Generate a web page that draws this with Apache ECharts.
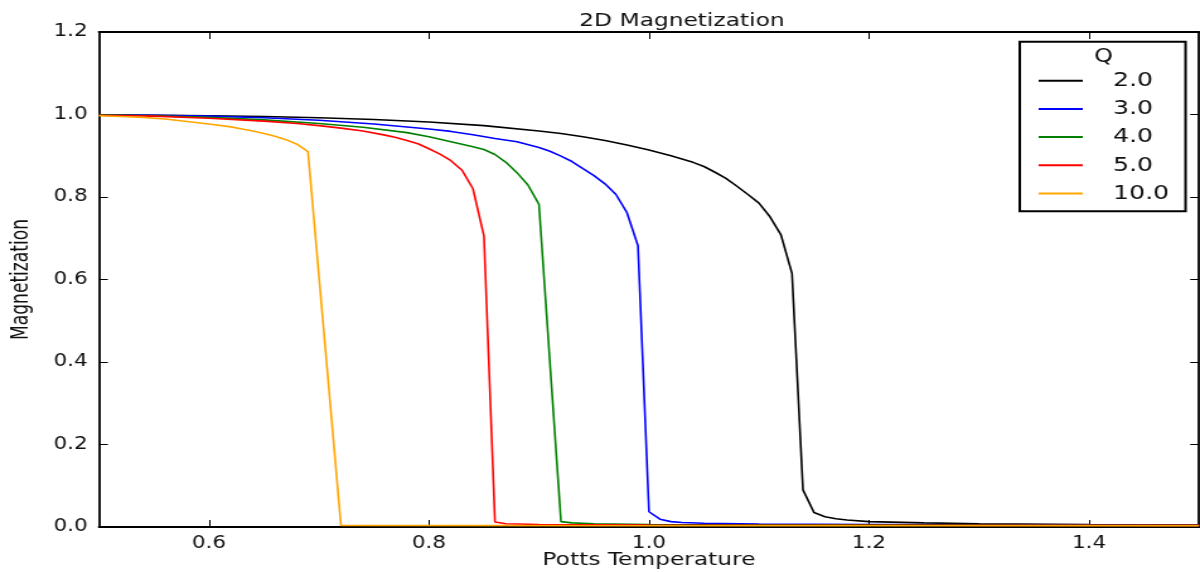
<!DOCTYPE html>
<html>
<head>
<meta charset="utf-8">
<script src="https://cdn.jsdelivr.net/npm/echarts@6/dist/echarts.min.js"></script>
<style>
  html, body { margin: 0; padding: 0; background: #fff; overflow: hidden; }
  /* the figure is laid out narrow and widened to the page width */
  #chart { width: 952px; height: 572px; transform: scaleX(1.2605); transform-origin: 0 0; }
</style>
</head>
<body>
<div id="chart"></div>
<script>
// Potts model magnetization vs temperature, one curve per Q
const qLabels = ['2.0', '3.0', '4.0', '5.0', '10.0'];
const qColors = ['#000000', '#0000ff', '#008000', '#ff0000', '#ffa500'];

const magQ2 = [
  [0.50, 0.999], [0.55, 0.998], [0.60, 0.997], [0.65, 0.995], [0.70, 0.992],
  [0.75, 0.988], [0.80, 0.982], [0.85, 0.973], [0.90, 0.960], [0.92, 0.954],
  [0.94, 0.946], [0.96, 0.937], [0.98, 0.926], [1.00, 0.914], [1.02, 0.900],
  [1.04, 0.884], [1.05, 0.874], [1.06, 0.860], [1.07, 0.845], [1.08, 0.826],
  [1.09, 0.806], [1.10, 0.785], [1.11, 0.752], [1.12, 0.708], [1.13, 0.615],
  [1.14, 0.090], [1.15, 0.035], [1.16, 0.025], [1.17, 0.020], [1.18, 0.017],
  [1.20, 0.013], [1.25, 0.010], [1.30, 0.008], [1.40, 0.006], [1.50, 0.005]
];
const magQ3 = [
  [0.50, 0.999], [0.55, 0.998], [0.60, 0.996], [0.65, 0.992], [0.70, 0.986],
  [0.75, 0.977], [0.80, 0.965], [0.82, 0.959], [0.84, 0.951], [0.86, 0.942],
  [0.88, 0.934], [0.90, 0.920], [0.91, 0.911], [0.92, 0.899], [0.93, 0.886],
  [0.94, 0.869], [0.95, 0.852], [0.96, 0.832], [0.97, 0.806], [0.98, 0.762],
  [0.99, 0.682], [1.00, 0.037], [1.01, 0.019], [1.02, 0.013], [1.03, 0.011],
  [1.05, 0.009], [1.10, 0.007], [1.20, 0.006], [1.50, 0.004]
];
const magQ4 = [
  [0.50, 0.999], [0.55, 0.997], [0.60, 0.993], [0.65, 0.987], [0.70, 0.978],
  [0.74, 0.969], [0.78, 0.956], [0.80, 0.946], [0.82, 0.934], [0.84, 0.922],
  [0.85, 0.915], [0.86, 0.903], [0.87, 0.884], [0.88, 0.859], [0.89, 0.829],
  [0.90, 0.782], [0.92, 0.013], [0.93, 0.010], [0.95, 0.008], [1.00, 0.006],
  [1.50, 0.004]
];
const magQ5 = [
  [0.50, 0.998], [0.55, 0.996], [0.60, 0.991], [0.65, 0.984], [0.68, 0.978],
  [0.70, 0.973], [0.72, 0.967], [0.74, 0.960], [0.76, 0.950], [0.77, 0.944],
  [0.78, 0.937], [0.79, 0.929], [0.80, 0.917], [0.81, 0.904], [0.82, 0.888],
  [0.83, 0.865], [0.84, 0.820], [0.85, 0.705], [0.86, 0.012], [0.87, 0.008],
  [0.90, 0.006], [1.00, 0.005], [1.50, 0.004]
];
const magQ10 = [
  [0.50, 0.997], [0.52, 0.995], [0.54, 0.993], [0.56, 0.989], [0.58, 0.983],
  [0.60, 0.977], [0.62, 0.970], [0.63, 0.965], [0.64, 0.960], [0.65, 0.954],
  [0.66, 0.947], [0.67, 0.939], [0.68, 0.928], [0.69, 0.910], [0.72, 0.004],
  [1.00, 0.003], [1.50, 0.003]
];
const seriesData = [magQ2, magQ3, magQ4, magQ5, magQ10];

const xTicks = [0.6, 0.8, 1.0, 1.2, 1.4];
const yTicks = [0.0, 0.2, 0.4, 0.6, 0.8, 1.0, 1.2];

const ink = '#111';
const font = 'DejaVu Sans';

function makeXAxis(pos, withLabels) {
  return {
    type: 'value', position: pos, min: 0.5, max: 1.5,
    name: withLabels ? 'Potts Temperature' : '',
    nameLocation: 'middle', nameGap: 24, nameMoveOverlap: false,
    nameTextStyle: { fontFamily: font, fontSize: 18.5, color: ink, verticalAlign: 'top' },
    axisLine: { show: true, onZero: false, lineStyle: { color: '#000', width: 1.8 } },
    axisTick: { show: true, inside: true, length: 7, customValues: xTicks, lineStyle: { color: '#000', width: 1 } },
    axisLabel: { show: withLabels, customValues: xTicks, margin: 8,
      formatter: v => v.toFixed(1), fontFamily: font, fontSize: 17, color: ink },
    splitLine: { show: false }
  };
}
function makeYAxis(pos, withLabels) {
  return {
    type: 'value', position: pos, min: 0, max: 1.2, interval: 0.2,
    name: withLabels ? 'Magnetization' : '',
    nameLocation: 'middle', nameGap: 52, nameRotate: 90,
    nameTextStyle: { fontFamily: 'Liberation Sans Narrow, DejaVu Sans Condensed, sans-serif', fontSize: 19, color: ink },
    axisLine: { show: true, onZero: false, lineStyle: { color: '#000', width: 1.8 } },
    axisTick: { show: true, inside: true, length: 7, customValues: yTicks, lineStyle: { color: '#000', width: 1 } },
    axisLabel: { show: withLabels, margin: 9,
      formatter: v => v.toFixed(1), fontFamily: font, fontSize: 17, color: ink },
    splitLine: { show: false }
  };
}

const chart = echarts.init(document.getElementById('chart'), null, { renderer: 'canvas' });
chart.setOption({
  animation: false,
  backgroundColor: '#fff',
  title: {
    text: '2D Magnetization', left: 536, top: 7, textAlign: 'center',
    textStyle: { fontFamily: font, fontSize: 18.5, fontWeight: 'normal', color: ink }
  },
  grid: { left: 78.5, right: 0.8, top: 32, bottom: 45, containLabel: false, outerBoundsMode: 'none' },
  xAxis: [makeXAxis('bottom', true), makeXAxis('top', false)],
  yAxis: [makeYAxis('left', true), makeYAxis('right', false)],
  legend: {
    orient: 'vertical', left: 809, top: 41.7, z: 5,
    padding: [28, 13, 6.7, 15],
    backgroundColor: '#fff',
    borderColor: '#000', borderWidth: 2, borderRadius: 0,
    icon: 'rect', itemWidth: 35, itemHeight: 2, itemGap: 6.2,
    textStyle: { fontFamily: font, fontSize: 20, color: ink, lineHeight: 22, padding: [0, 0, 0, 19] },
    data: qLabels
  },
  graphic: [{
    type: 'text', left: 868, top: 48, z: 100,
    style: { text: 'Q', fontFamily: font, fontSize: 19, fill: ink }
  }],
  series: seriesData.map((d, i) => ({
    name: qLabels[i], type: 'line', data: d,
    xAxisIndex: 0, yAxisIndex: 0,
    showSymbol: false, symbol: 'none', smooth: false,
    lineStyle: { color: qColors[i], width: 1.6 },
    itemStyle: { color: qColors[i] }
  }))
});
</script>
</body>
</html>
